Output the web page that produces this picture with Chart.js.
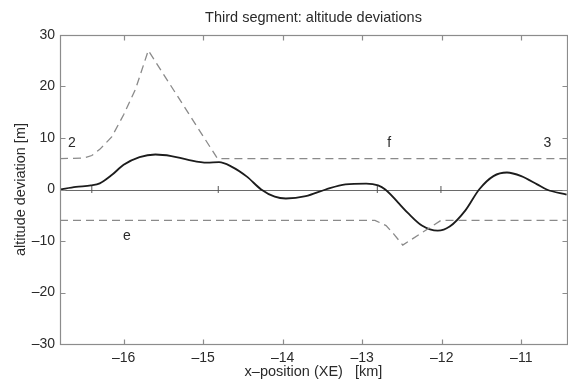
<!DOCTYPE html>
<html>
<head>
<meta charset="utf-8">
<script src="https://cdn.jsdelivr.net/npm/chart.js@4"></script>
<style>
  html, body { margin: 0; padding: 0; background: #fff; overflow: hidden; }
  #wrap { width: 572px; height: 382px; }
</style>
</head>
<body>
<div id="wrap"><canvas id="c" width="572" height="382"></canvas></div>
<script>
// ---- data ----
const titleText = 'Third segment: altitude deviations';
const xTitle = 'x\u2013position (XE)   [km]';
const yTitle = 'altitude deviation [m]';

const xTicks = [-16, -15, -14, -13, -12, -11];
const yTicks = [-30, -20, -10, 0, 10, 20, 30];

// solid: altitude deviation
const devX = [-16.8, -16.6, -16.41, -16.3, -16.15, -16.0, -15.8, -15.6, -15.4, -15.2, -14.95, -14.8, -14.65, -14.45, -14.27, -14.1, -13.96, -13.71, -13.46, -13.21, -12.95, -12.8, -12.71, -12.43, -12.25, -12.05, -11.9, -11.7, -11.53, -11.35, -11.18, -11.0, -10.8, -10.68, -10.43];
const devY = [0, 0.5, 0.8, 1.2, 2.8, 4.8, 6.3, 6.8, 6.5, 5.8, 5.2, 5.3, 4.5, 2.5, 0, -1.4, -1.75, -1.3, 0, 1.0, 1.15, 0.8, 0, -4.5, -7.0, -8.0, -7.2, -4.0, 0, 2.6, 3.3, 2.6, 1.0, 0, -1.0];

// dashed upper bound
const upX = [-16.8, -16.5, -16.4, -16.3, -16.15, -16.0, -15.85, -15.69, -14.82, -10.43];
const upY = [6, 6.1, 6.6, 7.8, 10.2, 14.5, 19.5, 27, 6, 6];

// dashed lower bound
const loX = [-16.8, -12.84, -12.7, -12.6, -12.49, -12.01, -10.43];
const loY = [-6, -6, -7.0, -8.7, -10.8, -6, -6];

// segment markers on the zero line
const markX = [-16.4, -14.81, -12.81, -12.01];

// text annotations
const noteText = ['2', 'f', '3', 'e'];
const noteX = [-16.65, -12.66, -10.67, -15.96];
const noteY = [9, 9, 9, -9];

// ---- build ----
const pts = (xs, ys) => xs.map((x, i) => ({ x: x, y: ys[i] }));
const fmt = v => (v < 0 ? '\u2013' + Math.abs(v) : String(v));
const FONT = '"Liberation Sans", Arial, Helvetica, sans-serif';

const decor = {
  id: 'decor',
  beforeDatasetsDraw(chart) {
    const { ctx, chartArea: a, scales: { x, y } } = chart;
    ctx.save();
    ctx.strokeStyle = '#6a6a6a';
    ctx.lineWidth = 1;
    ctx.beginPath();
    const y0 = Math.round(y.getPixelForValue(0)) + 0.5;
    ctx.moveTo(a.left, y0); ctx.lineTo(a.right, y0);
    ctx.stroke();
    ctx.restore();
  },
  afterDraw(chart) {
    const { ctx, chartArea: a, scales: { x, y } } = chart;
    ctx.save();
    ctx.strokeStyle = '#8c8c8c';
    ctx.lineWidth = 1.2;
    const L = Math.round(a.left) + 0.5, R = Math.round(a.right) + 0.5;
    const T = Math.round(a.top) + 0.5, B = Math.round(a.bottom) + 0.5;
    ctx.strokeRect(L, T, R - L, B - T);
    ctx.beginPath();
    xTicks.forEach(v => {
      const px = Math.round(x.getPixelForValue(v)) + 0.5;
      ctx.moveTo(px, B); ctx.lineTo(px, B - 5);
      ctx.moveTo(px, T); ctx.lineTo(px, T + 5);
    });
    yTicks.forEach(v => {
      const py = Math.round(y.getPixelForValue(v)) + 0.5;
      ctx.moveTo(L, py); ctx.lineTo(L + 5, py);
      ctx.moveTo(R, py); ctx.lineTo(R - 5, py);
    });
    ctx.stroke();

    const cx = (a.left + a.right) / 2;
    ctx.fillStyle = '#2a2a2a';
    ctx.textAlign = 'center';
    ctx.textBaseline = 'middle';
    ctx.font = '14.5px ' + FONT;
    ctx.fillText(titleText, cx, 18);
    ctx.fillText(xTitle, cx, 372);
    ctx.save();
    ctx.translate(21, (a.top + a.bottom) / 2);
    ctx.rotate(-Math.PI / 2);
    ctx.fillText(yTitle, 0, 0);
    ctx.restore();
    ctx.font = '14px ' + FONT;
    noteText.forEach((t, i) => {
      ctx.fillText(t, x.getPixelForValue(noteX[i]), y.getPixelForValue(noteY[i]));
    });
    ctx.restore();
  }
};

new Chart(document.getElementById('c'), {
  type: 'line',
  data: {
    datasets: [
      {
        data: pts(upX, upY), borderColor: '#8a8a8a', borderWidth: 1.3,
        borderDash: [8, 5], pointRadius: 0, tension: 0, fill: false
      },
      {
        data: pts(loX, loY), borderColor: '#8a8a8a', borderWidth: 1.3,
        borderDash: [8, 5], pointRadius: 0, tension: 0, fill: false
      },
      {
        data: pts(devX, devY), borderColor: '#1c1c1c', borderWidth: 1.8,
        pointRadius: 0, cubicInterpolationMode: 'monotone', fill: false
      },
      {
        data: markX.map(v => ({ x: v, y: 0 })), showLine: false,
        pointStyle: 'line', rotation: 90, pointRadius: 3.5,
        pointBorderColor: '#555', pointBorderWidth: 1, borderColor: '#555'
      }
    ]
  },
  options: {
    responsive: false,
    animation: false,
    events: [],
    layout: { padding: { top: 35, right: 2, left: 0, bottom: 0 } },
    plugins: { legend: { display: false }, tooltip: { enabled: false }, title: { display: false } },
    scales: {
      x: {
        type: 'linear', min: -16.8, max: -10.425,
        grid: { display: false, drawTicks: false },
        border: { display: false },
        afterBuildTicks: s => { s.ticks = xTicks.map(v => ({ value: v })); },
        afterFit: s => { s.height = 38; },
        ticks: { callback: fmt, color: '#2a2a2a', padding: 6, maxRotation: 0, autoSkip: false, font: { size: 14, family: FONT } }
      },
      y: {
        type: 'linear', min: -30, max: 30,
        grid: { display: false, drawTicks: false },
        border: { display: false },
        afterBuildTicks: s => { s.ticks = yTicks.map(v => ({ value: v })); },
        afterFit: s => { s.width = 60; },
        ticks: { callback: fmt, color: '#2a2a2a', padding: 5, font: { size: 14, family: FONT } }
      }
    }
  },
  plugins: [decor]
});
</script>
</body>
</html>
